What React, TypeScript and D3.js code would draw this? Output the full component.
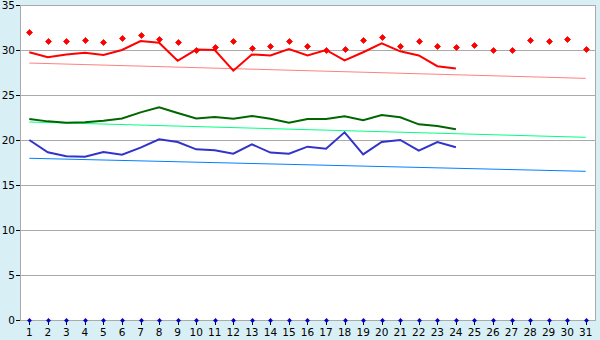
import React from "react";
import * as d3 from "d3";

const days: number[] = Array.from({ length: 31 }, (_, i) => i + 1);
const yTicks: number[] = [0, 5, 10, 15, 20, 25, 30, 35];

// Record highs (red markers)
const recordHigh: number[] = [
  32.0, 31.0, 31.0, 31.1, 30.9, 31.3, 31.7, 31.2, 30.9, 30.0,
  30.3, 31.0, 30.2, 30.4, 31.0, 30.4, 30.0, 30.1, 31.1, 31.4,
  30.4, 31.0, 30.4, 30.3, 30.6, 30.0, 30.0, 31.1, 31.0, 31.2, 30.1,
];
// Daily max (red line), days 1-24
const maxTemp: number[] = [
  29.75, 29.2, 29.5, 29.7, 29.45, 30.0, 31.0, 30.8, 28.8, 30.05,
  30.0, 27.7, 29.5, 29.4, 30.1, 29.4, 30.0, 28.85, 29.75, 30.75,
  29.85, 29.4, 28.2, 27.95,
];
// Daily mean (green line)
const meanTemp: number[] = [
  22.33, 22.07, 21.93, 21.96, 22.15, 22.4, 23.07, 23.63, 23.0, 22.4,
  22.56, 22.37, 22.67, 22.37, 21.93, 22.33, 22.33, 22.63, 22.19, 22.78,
  22.52, 21.74, 21.56, 21.19,
];
// Daily min (blue line)
const minTemp: number[] = [
  20.0, 18.63, 18.2, 18.15, 18.67, 18.37, 19.15, 20.07, 19.78, 18.96,
  18.85, 18.48, 19.52, 18.6, 18.48, 19.26, 19.04, 20.85, 18.4, 19.78,
  20.0, 18.81, 19.78, 19.19,
];
// Normal trend lines (start day 1, end day 31)
const normalMax: number[] = [28.55, 26.85];
const normalMean: number[] = [22.0, 20.3];
const normalMin: number[] = [17.97, 16.52];
// Precipitation markers at 0
const zeroMarks: number[] = days.map(() => 0);

const W = 600;
const H = 340;
const left = 20;
const right = 595;
const top = 5;
const bottom = 320;

const diamondPath = (r: number) => `M0,${-r}L${r},0L0,${r}L${-r},0Z`;

export default function App() {
  const x = d3.scaleBand<number>().domain(days).range([left, right]);
  const cx = (d: number) => (x(d) as number) + x.bandwidth() / 2;
  const y = d3.scaleLinear().domain([0, 35]).range([bottom, top]);

  const line = d3
    .line<number>()
    .x((_, i) => cx(days[i]))
    .y((v) => y(v));

  const trend = (vals: number[]) =>
    `M${cx(days[0])},${y(vals[0])}L${cx(days[days.length - 1])},${y(vals[1])}`;

  const font = "'DejaVu Sans', Verdana, sans-serif";

  return (
    <svg
      width={W}
      height={H}
      style={{ position: "absolute", left: 0, top: 0, display: "block" }}
    >
      <rect x={0} y={0} width={W} height={H} fill="#d9eff6" />
      <rect x={left} y={top} width={right - left} height={bottom - top} fill="#ffffff" />
      {yTicks.map((t) => (
        <g key={t}>
          {t > 0 && (
            <line x1={left} x2={right} y1={y(t) + 0.5} y2={y(t) + 0.5} stroke="#aaaaaa" strokeWidth={1} />
          )}
          <line x1={left - 4} x2={left} y1={y(t) + 0.5} y2={y(t) + 0.5} stroke="#000" strokeWidth={1} />
          <text
            x={left - 5}
            y={y(t)}
            dy="0.35em"
            textAnchor="end"
            fontSize={10.5}
            fontFamily={font}
            fill="#000"
          >
            {t}
          </text>
        </g>
      ))}
      <line x1={left + 0.5} x2={left + 0.5} y1={top} y2={bottom} stroke="#aaaaaa" />
      <line x1={right + 0.5} x2={right + 0.5} y1={top} y2={bottom + 0.5} stroke="#aaaaaa" />
      <line x1={left} x2={right + 1} y1={top + 0.5} y2={top + 0.5} stroke="#aaaaaa" />
      <line x1={left} x2={right + 1} y1={bottom + 0.5} y2={bottom + 0.5} stroke="#aaaaaa" />

      {days.map((d) => (
        <g key={d}>
          <line
            x1={Math.round(cx(d)) + 0.5}
            x2={Math.round(cx(d)) + 0.5}
            y1={bottom}
            y2={bottom + 5}
            stroke="#000"
          />
          <text
            x={cx(d)}
            y={bottom + 16}
            textAnchor="middle"
            fontSize={10.5}
            fontFamily={font}
            fill="#000"
          >
            {d}
          </text>
        </g>
      ))}

      <path d={trend(normalMax)} stroke="#ff8080" strokeWidth={1} fill="none" />
      <path d={trend(normalMean)} stroke="#00ff80" strokeWidth={1} fill="none" />
      <path d={trend(normalMin)} stroke="#0080ff" strokeWidth={1} fill="none" />

      <path d={line(maxTemp) || ""} stroke="#ff0000" strokeWidth={2} fill="none" />
      <path d={line(meanTemp) || ""} stroke="#006600" strokeWidth={2} fill="none" />
      <path d={line(minTemp) || ""} stroke="#3333cc" strokeWidth={2} fill="none" />

      {recordHigh.map((v, i) => (
        <path
          key={i}
          d={diamondPath(3)}
          transform={`translate(${Math.round(cx(days[i])) + 0.5},${Math.round(y(v)) + 0.5})`}
          fill="#ff0000"
          stroke="#ff0000"
          strokeWidth={0.8}
        />
      ))}
      {zeroMarks.map((v, i) => (
        <path
          key={i}
          d={diamondPath(2.2)}
          transform={`translate(${Math.round(cx(days[i])) + 0.5},${Math.round(y(v)) + 0.5})`}
          fill="#0000cc"
          stroke="#0000cc"
          strokeWidth={0.5}
        />
      ))}
    </svg>
  );
}
